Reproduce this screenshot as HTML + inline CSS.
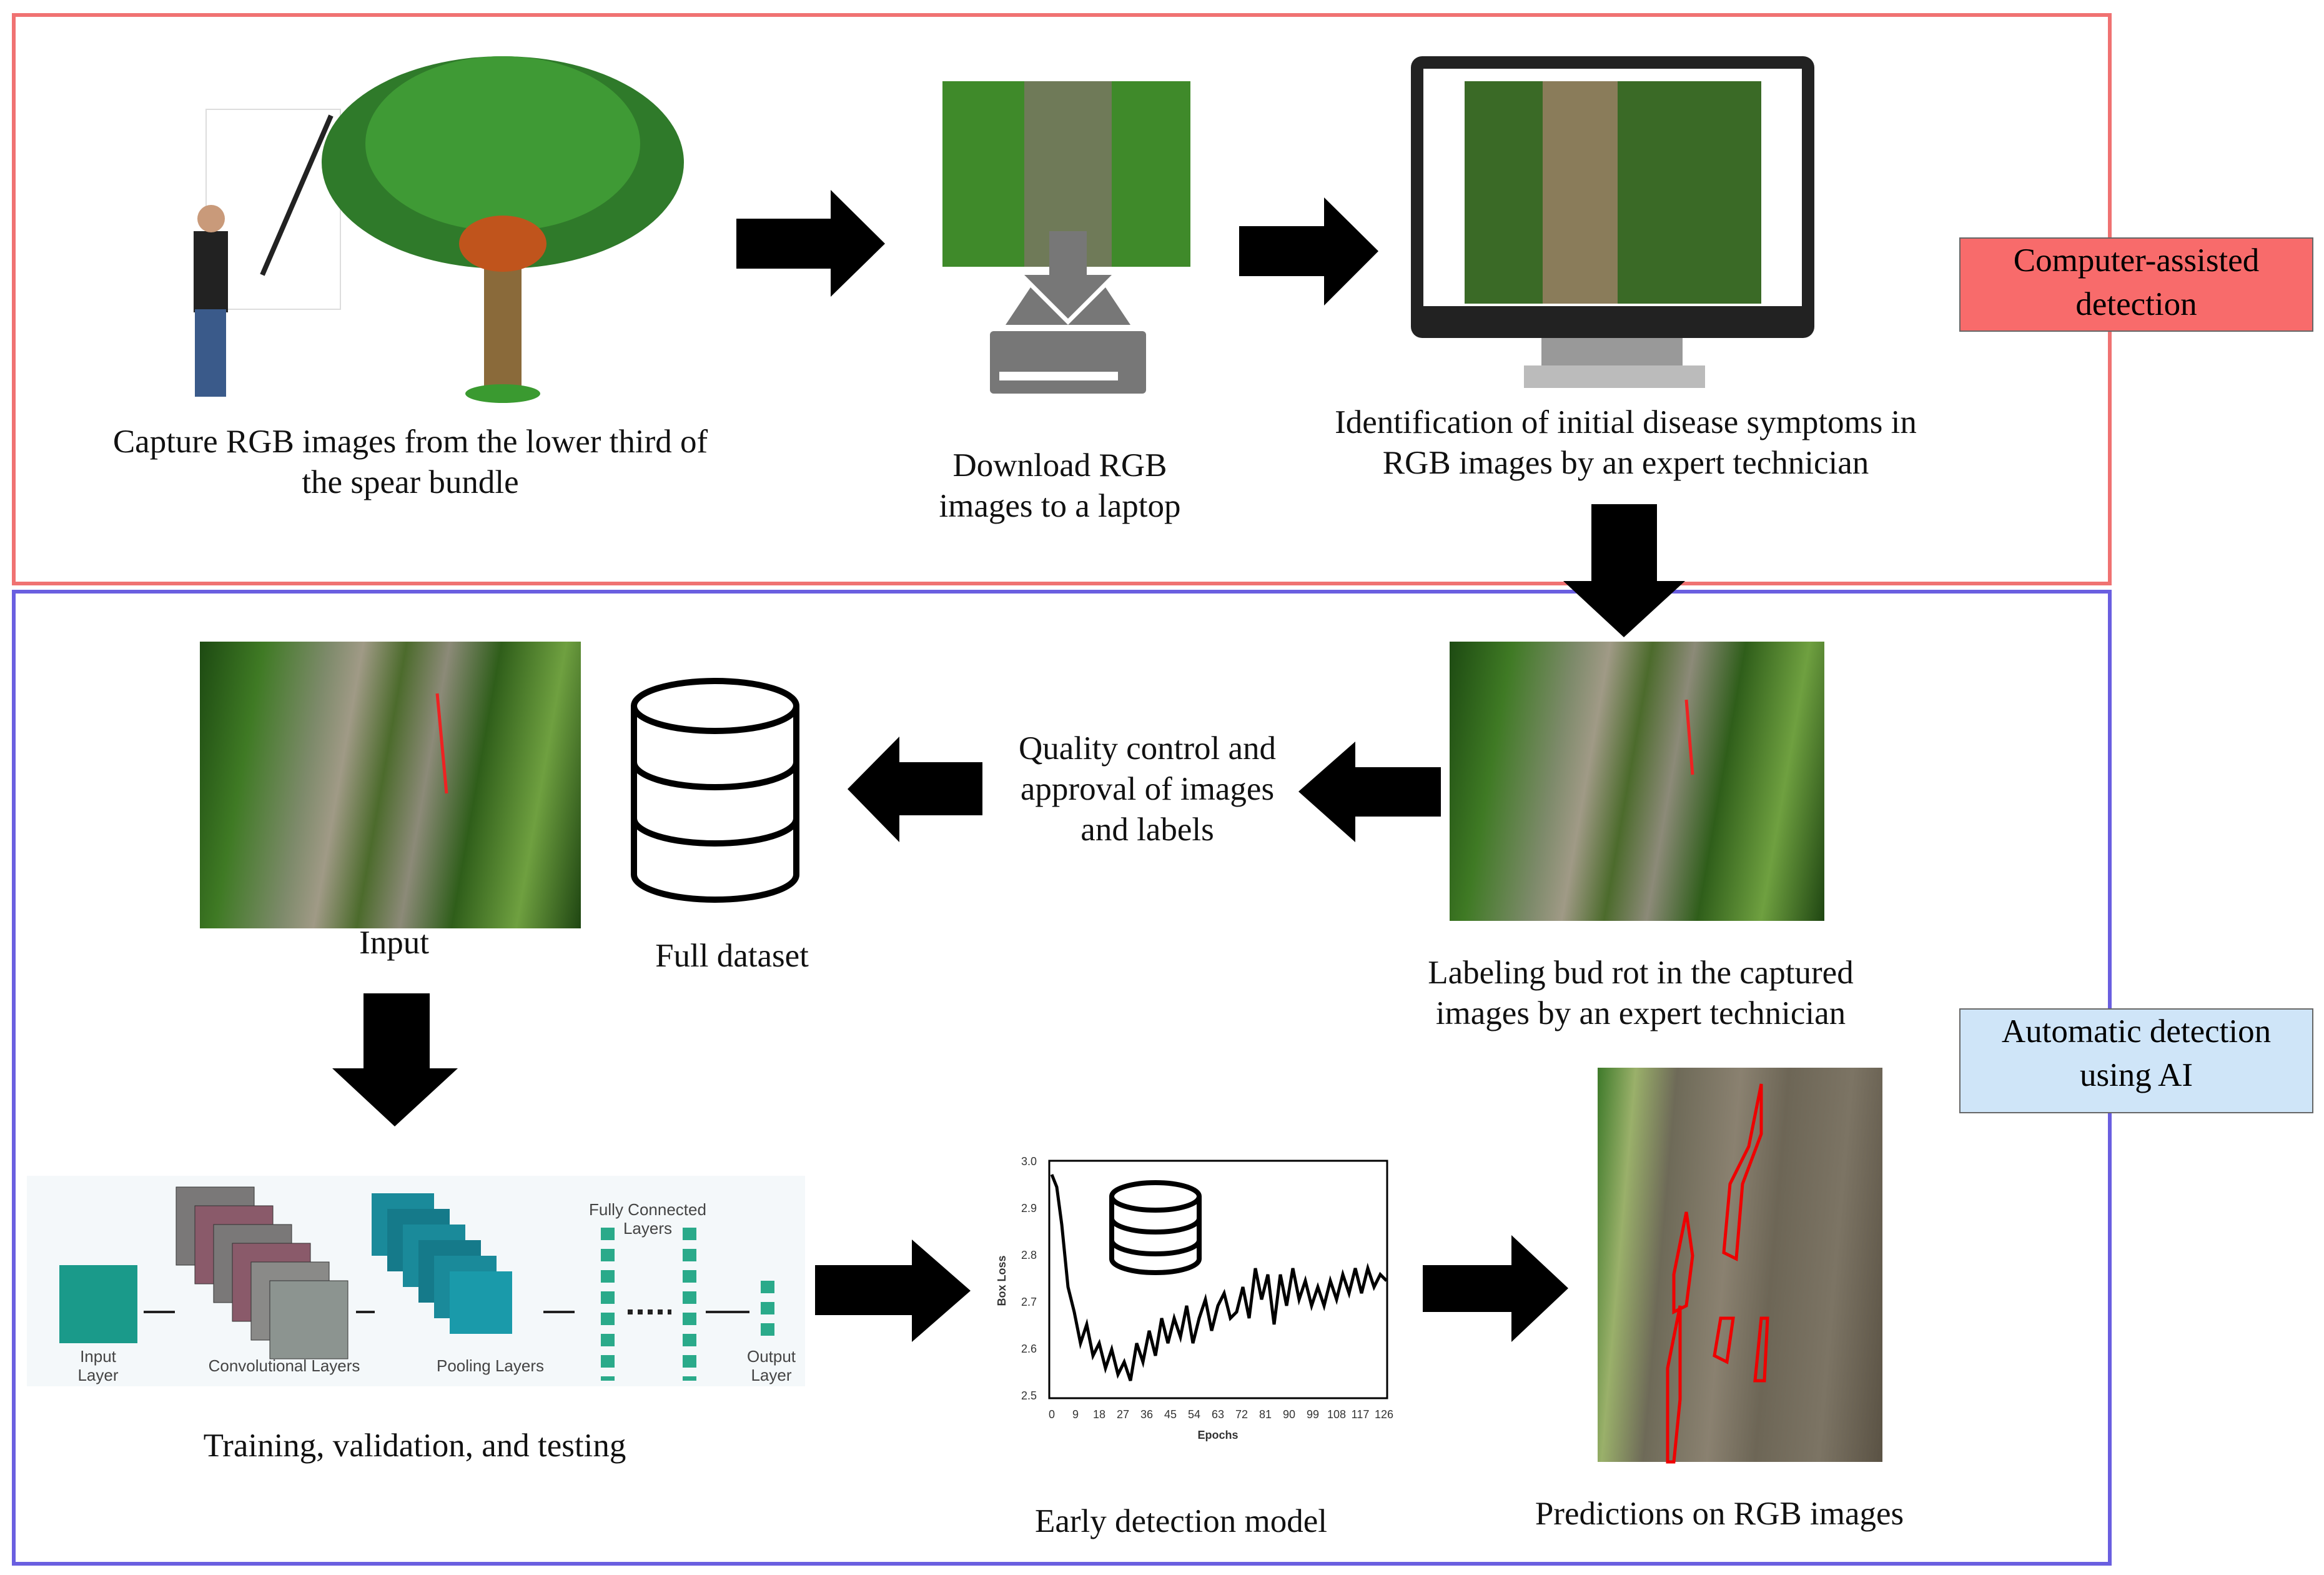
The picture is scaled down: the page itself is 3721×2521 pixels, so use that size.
<!DOCTYPE html>
<html><head><meta charset="utf-8"><style>
body{margin:0;width:3721px;height:2521px;background:#fff;position:relative;overflow:hidden;font-family:"Liberation Serif",serif;}
.t{position:absolute;width:1600px;text-align:center;font-size:53px;line-height:65px;color:#111;}
.ph{position:absolute;background:linear-gradient(100deg,#1d4a12 0%,#3f7a24 15%,#7d8a6a 30%,#a09a86 38%,#4c6b2c 48%,#8c8a78 58%,#2f5e1a 70%,#6fa040 85%,#1f4612 100%);}
.ph2{position:absolute;background:linear-gradient(95deg,#3e7a2a 0%,#9ab06a 12%,#6e6a58 25%,#8a8170 45%,#6d6656 60%,#7c7464 80%,#5a5244 100%);}
.lab{position:absolute;border:2px solid #666;text-align:center;font-size:53px;line-height:70px;}
</style></head><body>
<div style="position:absolute;left:19px;top:21px;width:3350px;height:904px;border:6px solid #f07272;"></div>
<div style="position:absolute;left:19px;top:944px;width:3350px;height:1550px;border:6px solid #6a5fe0;"></div>
<div class="lab" style="left:3137px;top:380px;width:563px;height:147px;background:#f86b6b;">Computer-assisted<br>detection</div>
<div class="lab" style="left:3137px;top:1614px;width:563px;height:164px;background:#cfe5f8;">Automatic detection<br>using AI</div>

<svg width="3721" height="2521" style="position:absolute;left:0;top:0">
<rect x="330" y="175" width="215" height="320" fill="none" stroke="#ddd" stroke-width="2"/>
<rect x="775" y="400" width="60" height="230" fill="#8a6a3a"/>
<ellipse cx="805" cy="260" rx="290" ry="170" fill="#2f7a2a"/>
<ellipse cx="805" cy="230" rx="220" ry="140" fill="#3f9a35"/>
<ellipse cx="805" cy="390" rx="70" ry="45" fill="#c0541c"/>
<ellipse cx="805" cy="630" rx="60" ry="15" fill="#3a9a30"/>
<line x1="420" y1="440" x2="530" y2="185" stroke="#222" stroke-width="8"/>
<rect x="310" y="370" width="55" height="130" fill="#222"/>
<circle cx="338" cy="350" r="22" fill="#c99a7a"/>
<rect x="312" y="495" width="50" height="140" fill="#3a5a8a"/>
<rect x="1509" y="130" width="397" height="297" fill="#3f8a2a"/>
<rect x="1640" y="130" width="140" height="297" fill="#6f7a58"/>
<polygon points="1680,370 1740,370 1740,440 1780,440 1710,510 1640,440 1680,440" fill="#777"/>
<polygon points="1610,520 1650,460 1710,520 1770,460 1810,520" fill="#777"/>
<rect x="1585" y="530" width="250" height="100" rx="6" fill="#777"/>
<rect x="1600" y="595" width="190" height="14" fill="#fff"/>
<rect x="2259" y="90" width="646" height="451" rx="18" fill="#222"/>
<rect x="2279" y="110" width="606" height="380" fill="#fff"/>
<rect x="2345" y="130" width="475" height="356" fill="#3a6a26"/>
<rect x="2470" y="130" width="120" height="356" fill="#8a7c5a"/>
<rect x="2468" y="541" width="226" height="50" fill="#999"/>
<rect x="2440" y="585" width="290" height="36" fill="#bbb"/>
<g fill="#000">
<polygon points="1179,350 1330,350 1330,304 1417,390 1330,475 1330,430 1179,430"/>
<polygon points="1984,362 2120,362 2120,316 2207,402 2120,489 2120,442 1984,442"/>
<polygon points="2548,807 2653,807 2653,930 2698,930 2600,1020 2503,930 2548,930"/>
<polygon points="2307,1228 2170,1228 2170,1187 2079,1267 2170,1348 2170,1307 2307,1307"/>
<polygon points="1573,1220 1440,1220 1440,1179 1357,1263 1440,1348 1440,1305 1573,1305"/>
<polygon points="582,1590 688,1590 688,1710 733,1710 632,1803 532,1710 582,1710"/>
<polygon points="1305,2025 1460,2025 1460,1984 1554,2066 1460,2148 1460,2105 1305,2105"/>
<polygon points="2278,2025 2420,2025 2420,1977 2511,2062 2420,2148 2420,2100 2278,2100"/>
</g>
<g fill="#fff" stroke="#000" stroke-width="10">
<path d="M1015,1130 v270 a130,40 0 0 0 260,0 v-270"/>
<path d="M1015,1220 a130,40 0 0 0 260,0 M1015,1310 a130,40 0 0 0 260,0" fill="none"/>
<ellipse cx="1145" cy="1130" rx="130" ry="40"/>
</g>
<rect x="43" y="1882" width="1246" height="337" fill="#f4f8fa"/>
<rect x="95" y="2025" width="125" height="125" fill="#1a9a8a"/>
<g stroke="#333" stroke-width="1"><rect x="282" y="1900" width="125" height="125" fill="#7a7878"/><rect x="312" y="1930" width="125" height="125" fill="#8a5a6a"/><rect x="342" y="1960" width="125" height="125" fill="#7a7878"/><rect x="372" y="1990" width="125" height="125" fill="#8a5a6a"/><rect x="402" y="2020" width="125" height="125" fill="#8a8a88"/><rect x="432" y="2050" width="125" height="125" fill="#8c9490"/></g>
<g><rect x="595" y="1910" width="100" height="100" fill="#1a8a9a"/><rect x="620" y="1935" width="100" height="100" fill="#157a8a"/><rect x="645" y="1960" width="100" height="100" fill="#1a8a9a"/><rect x="670" y="1985" width="100" height="100" fill="#157a8a"/><rect x="695" y="2010" width="100" height="100" fill="#1a8a9a"/><rect x="720" y="2035" width="100" height="100" fill="#1a9aaa"/></g>
<g stroke="#222" stroke-width="4"><line x1="230" y1="2100" x2="280" y2="2100" /><line x1="570" y1="2100" x2="600" y2="2100"/><line x1="870" y1="2100" x2="920" y2="2100"/><line x1="1130" y1="2100" x2="1200" y2="2100"/></g>
<g stroke="#2aaa8a" stroke-width="22" stroke-dasharray="20,14"><line x1="973" y1="1965" x2="973" y2="2210"/><line x1="1104" y1="1965" x2="1104" y2="2210"/><line x1="1229" y1="2050" x2="1229" y2="2140"/></g>
<line x1="1005" y1="2100" x2="1075" y2="2100" stroke="#222" stroke-width="8" stroke-dasharray="8,8"/>
<g font-family="Liberation Sans" font-size="26" fill="#444" text-anchor="middle">
<text x="157" y="2180">Input</text><text x="157" y="2210">Layer</text>
<text x="455" y="2195">Convolutional Layers</text><text x="785" y="2195">Pooling Layers</text>
<text x="1037" y="1945">Fully Connected</text><text x="1037" y="1975">Layers</text>
<text x="1235" y="2180">Output</text><text x="1235" y="2210">Layer</text></g>
<rect x="1680" y="1858" width="541" height="380" fill="#fff" stroke="#000" stroke-width="3"/>
<polyline fill="none" stroke="#000" stroke-width="5" points="1684,1880 1692,1900 1700,1960 1710,2060 1720,2100 1730,2150 1740,2120 1750,2170 1760,2150 1770,2190 1780,2160 1790,2200 1800,2180 1810,2210 1820,2150 1830,2180 1840,2130 1850,2170 1860,2110 1870,2150 1880,2110 1890,2140 1900,2090 1910,2150 1920,2110 1930,2080 1940,2130 1950,2090 1960,2070 1970,2110 1980,2100 1990,2060 2000,2110 2010,2030 2020,2080 2030,2040 2040,2120 2050,2040 2060,2090 2070,2030 2080,2080 2090,2050 2100,2090 2110,2060 2120,2090 2130,2050 2140,2080 2150,2040 2160,2070 2170,2030 2180,2070 2190,2030 2200,2060 2210,2040 2220,2050"/>
<g fill="#fff" stroke="#000" stroke-width="8"><path d="M1780,1915 v100 a70,22 0 0 0 140,0 v-100"/><path d="M1780,1950 a70,22 0 0 0 140,0 M1780,1985 a70,22 0 0 0 140,0" fill="none"/><ellipse cx="1850" cy="1915" rx="70" ry="22"/></g>
<g font-family="Liberation Sans" font-size="18" fill="#333"><text x="1635" y="1865">3.0</text><text x="1635" y="1940">2.9</text><text x="1635" y="2015">2.8</text><text x="1635" y="2090">2.7</text><text x="1635" y="2165">2.6</text><text x="1635" y="2240">2.5</text>
<g text-anchor="middle"><text x="1684" y="2270">0</text><text x="1722" y="2270">9</text><text x="1760" y="2270">18</text><text x="1798" y="2270">27</text><text x="1836" y="2270">36</text><text x="1874" y="2270">45</text><text x="1912" y="2270">54</text><text x="1950" y="2270">63</text><text x="1988" y="2270">72</text><text x="2026" y="2270">81</text><text x="2064" y="2270">90</text><text x="2102" y="2270">99</text><text x="2140" y="2270">108</text><text x="2178" y="2270">117</text><text x="2216" y="2270">126</text></g>
<text x="1950" y="2303" font-weight="bold" text-anchor="middle">Epochs</text>
<text x="1610" y="2050" transform="rotate(-90 1610 2050)" font-weight="bold" text-anchor="middle">Box Loss</text></g>
</svg>
<div class="ph" style="left:320px;top:1027px;width:610px;height:459px;"></div>
<div class="ph" style="left:2321px;top:1027px;width:600px;height:447px;"></div>
<div class="ph2" style="left:2558px;top:1709px;width:456px;height:631px;"></div>
<svg width="3721" height="2521" style="position:absolute;left:0;top:0">
<g fill="none" stroke="#e00" stroke-width="5"><path d="M2820,1735 l-20,100 -30,60 -10,110 20,10 10,-120 30,-80 z"/><path d="M2700,1940 l-20,100 0,60 20,-10 10,-80 z"/><path d="M2755,2110 l-10,60 20,10 10,-70 z"/><path d="M2820,2110 l-10,100 15,0 5,-100 z"/><path d="M2690,2090 l-20,100 0,150 10,0 10,-100 z"/></g>
<g stroke="#e22" stroke-width="5"><line x1="700" y1="1110" x2="715" y2="1270"/><line x1="2700" y1="1120" x2="2710" y2="1240"/></g>
</svg>
<div class="t" style="left:-143px;top:675px;">Capture RGB images from the lower third of<br>the spear bundle</div>
<div class="t" style="left:897px;top:713px;">Download RGB<br>images to a laptop</div>
<div class="t" style="left:1803px;top:644px;">Identification of initial disease symptoms in<br>RGB images by an expert technician</div>
<div class="t" style="left:1037px;top:1166px;">Quality control and<br>approval of images<br>and labels</div>
<div class="t" style="left:-169px;top:1477px;">Input</div>
<div class="t" style="left:372px;top:1498px;">Full dataset</div>
<div class="t" style="left:1827px;top:1525px;">Labeling bud rot in the captured<br>images by an expert technician</div>
<div class="t" style="left:-136px;top:2282px;">Training, validation, and testing</div>
<div class="t" style="left:1091px;top:2403px;">Early detection model</div>
<div class="t" style="left:1953px;top:2391px;">Predictions on RGB images</div>
</body></html>
